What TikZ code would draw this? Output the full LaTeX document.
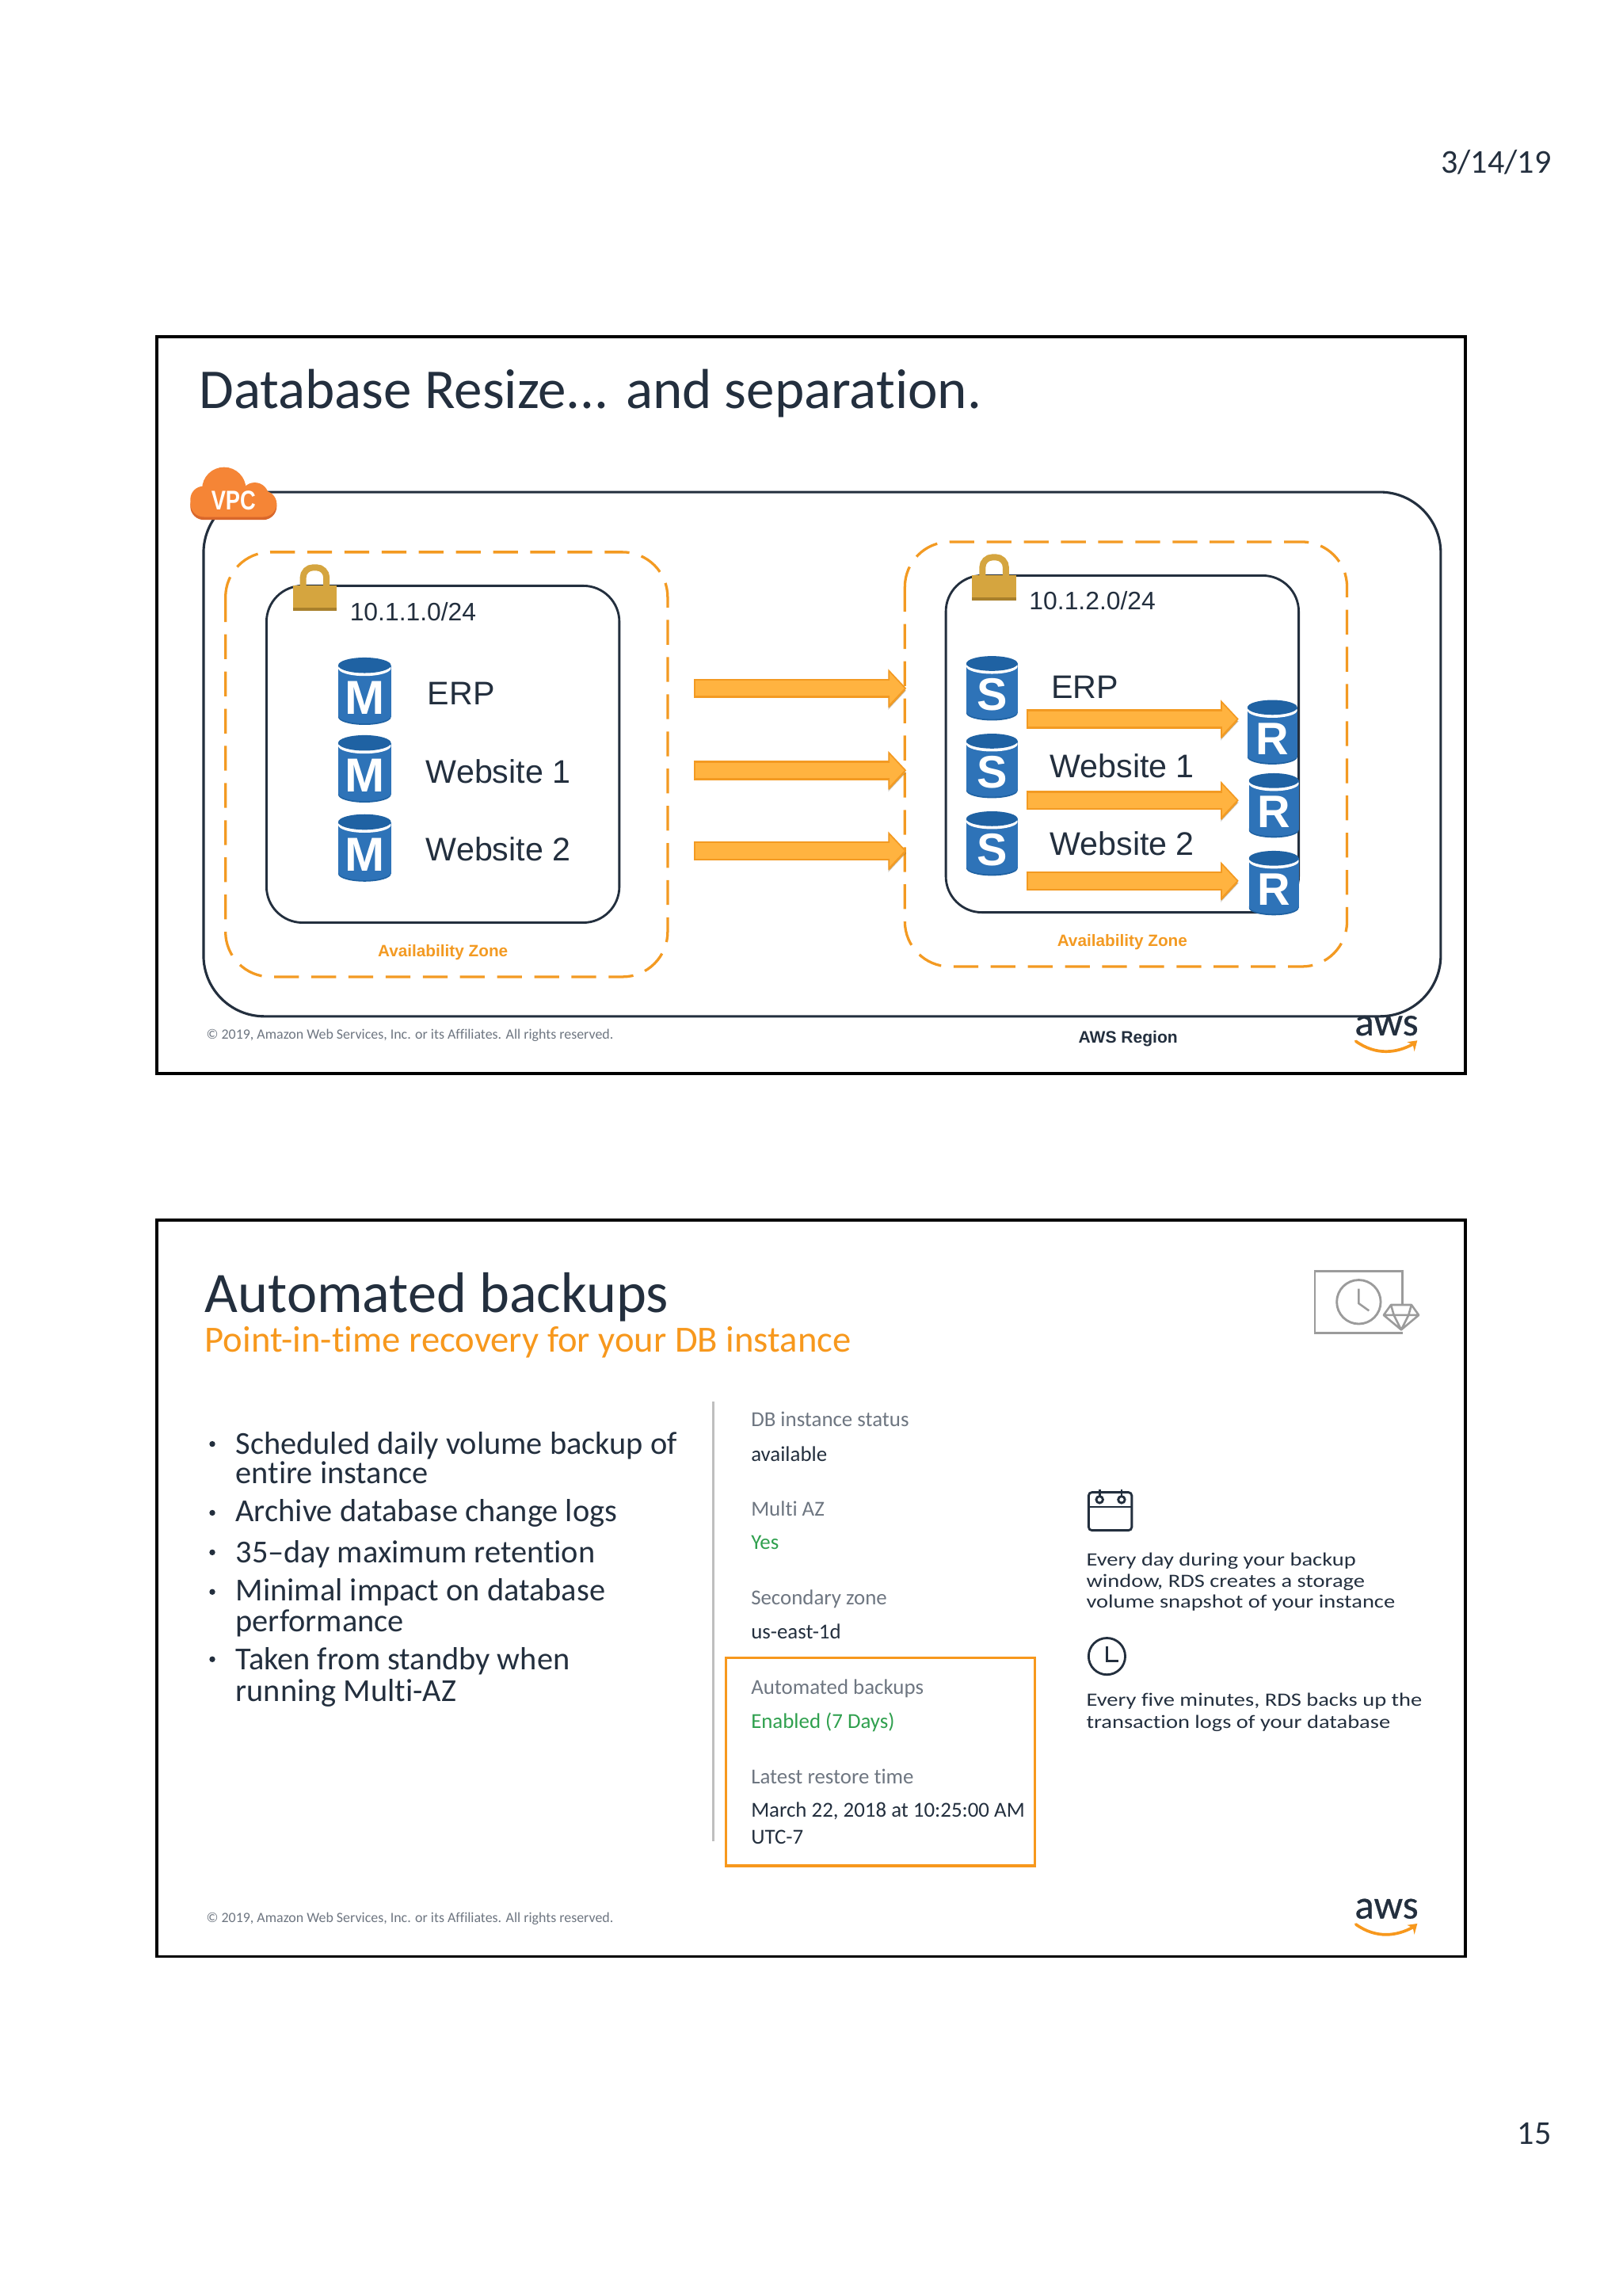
\documentclass[tikz,border=0pt]{standalone}
\usepackage{fontspec}
\setmainfont{Carlito}[Ligatures=NoCommon]
\newfontfamily\arialf{Liberation Sans}
\newfontfamily\widef{Carlito}[FakeStretch=1.2,Ligatures=NoCommon]
\newfontfamily\narrowf{Liberation Sans}[FakeStretch=0.8]
\newfontfamily\awsf{Carlito}[FakeBold=0.5]
\usetikzlibrary{arrows.meta}
\definecolor{inkdark}{HTML}{232F3E}
\definecolor{grayt}{HTML}{6E7681}
\definecolor{greent}{HTML}{2FA04E}
\definecolor{awsorange}{HTML}{F7981D}
\definecolor{dborange}{HTML}{F39A22}
\definecolor{arrowlight}{HTML}{FFB340}
\definecolor{dbblue}{HTML}{2E73B8}
\definecolor{dbdark}{HTML}{1F62A3}
\definecolor{gold}{HTML}{D5A53F}
\definecolor{golddark}{HTML}{A8802C}
\definecolor{cloudo}{HTML}{F58536}
\definecolor{cloudd}{HTML}{D9672B}
\definecolor{icongray}{HTML}{9B9B9B}
\newcommand\fs[1]{\fontsize{#1}{#1}\selectfont}
\tikzset{
  txt/.style={anchor=base west,inner sep=0pt,outer sep=0pt,text=inkdark},
  txtc/.style={anchor=base,inner sep=0pt,outer sep=0pt,text=inkdark},
  slidebox/.style={draw=black,line width=1.35pt,fill=white},
  vpcbox/.style={draw=inkdark,line width=1.1pt,rounded corners=27pt},
  azbox/.style={draw=dborange,line width=1.15pt,dash pattern=on 11pt off 5.5pt,rounded corners=20pt},
  subnetbox/.style={draw=inkdark,line width=1pt,rounded corners=16pt},
  bigarrow/.style={line width=8.6pt,draw=dborange,-{Triangle[length=8pt,width=17pt,fill=arrowlight,line width=.6pt]},
    preaction={draw=black,draw opacity=.14,transform canvas={yshift=-1pt}},
    postaction={draw=arrowlight,line width=6.8pt,-,shorten >=6.5pt,shorten <=.7pt}},
  bodytxt/.style={txt,font=\fs{14.2}},
  infogray/.style={txt,text=grayt,font=\fs{9.45}},
  infodark/.style={txt,font=\fs{9.45}},
  infogreen/.style={txt,text=greent,font=\fs{9.45}},
  sidetxt/.style={txt,font=\widef\fs{8.35}},
  diag/.style={txt,font=\arialf\fs{14.5}},
  subnetlab/.style={txt,font=\arialf\fs{11.2}},
  azlab/.style={txtc,text=dborange,font=\arialf\bfseries\fs{7.3}},
  copyr/.style={txt,text=grayt,font=\fs{6.3}},
  icon/.style={draw=inkdark,line width=1pt},
  iconb/.style={draw=icongray,line width=1pt},
}
\newcommand\dbcyl[6]{% name, cx, top, w, h, letter
  \pgfmathsetmacro\ee{#5*0.115}
  \pgfmathsetmacro\ff{#5*0.46}
  \fill[dbblue] (#2-#4/2,#3+\ee) rectangle (#2+#4/2,#3+#5-\ee);
  \fill[dbdark] (#2,#3+#5-\ee) ellipse [x radius=#4/2,y radius=\ee];
  \fill[dbblue] (#2,#3+#5-\ee-1) ellipse [x radius=#4/2,y radius=\ee];
  \fill[white] (#2,#3+\ee+2) ellipse [x radius=#4/2,y radius=\ee];
  \fill[dbdark] (#2,#3+\ee) ellipse [x radius=#4/2,y radius=\ee];
  \node[text=white,inner sep=0pt,font=\arialf\bfseries\fs{\ff}] (#1) at (#2,#3+#5*0.6) {#6};
}
\newcommand\padlock[2]{% x left, y top
  \draw[gold,line width=2.8pt,rounded corners=4.5pt] (#1+7,#2+17) -- (#1+7,#2+2.5) -- (#1+23,#2+2.5) -- (#1+23,#2+17);
  \fill[gold] (#1,#2+15) rectangle (#1+30,#2+31);
  \fill[golddark] (#1,#2+30) rectangle (#1+30,#2+32);
}
\newcommand\awslogo[3]{% name, x left, y top
  \node[txtc,font=\awsf\fs{18}] (#1) at (#2+21,#3+15) {aws};
  \draw[awsorange,line width=1.3pt,line cap=round] (#2,#3+19) .. controls (#2+14,#3+29) and (#2+28,#3+27) .. (#2+39,#3+21);
  \fill[awsorange] (#2+35,#3+19.5) -- (#2+42,#3+18.5) -- (#2+40,#3+26) -- (#2+39,#3+21.5) -- cycle;
}
\begin{document}
\begin{tikzpicture}[x=0.65pt,y=-0.65pt]
\useasboundingbox (0,0) rectangle (1108,1567.8);
\fill[white] (0,0) rectangle (1108,1567.8);
\node[txt,anchor=base east,font=\fs{14.8}] (date) at (1059.5,118) {3/14/19};
\node[txt,anchor=base east,font=\fs{14.8}] (page) at (1059.5,1464) {15};

% ---------- slide 1
\draw[slidebox] (107,230) rectangle (1001,733);
\node[txt,font=\fs{25}] (title1) at (136,279) {Database Resize... and separation.};
\node[copyr] (copy1) at (141,709.5) {© 2019, Amazon Web Services, Inc. or its Affiliates. All rights reserved.};
\awslogo{aws1}{926}{692}
\draw[vpcbox] (139,336) rectangle (984,694);
\node[txtc,font=\arialf\bfseries\fs{7.4}] (region) at (770.5,712) {AWS Region};
% cloud
\fill[cloudd,rounded corners=6pt] (130,336) rectangle (189,355);
\fill[cloudo,rounded corners=6pt] (130,335) rectangle (189,353);
\fill[cloudo] (153,334) circle [radius=15];
\fill[cloudo] (174,339) circle [radius=9.5];
\fill[cloudo] (139,341) circle [radius=9];
\node[text=white,inner sep=0pt,font=\narrowf\bfseries\fs{12}] (vpc) at (159.5,342) {VPC};

\draw[azbox] (154,377) rectangle (456,667);
\draw[subnetbox] (182,400) rectangle (423,630);
\padlock{200}{385}
\node[subnetlab] (sub1) at (239,424) {10.1.1.0/24};
\dbcyl{m1}{249}{449}{36}{46}{M}
\dbcyl{m2}{249}{502}{36}{46}{M}
\dbcyl{m3}{249}{556}{36}{46}{M}
\node[diag] (l1) at (292,481) {ERP};
\node[diag] (l2) at (291,535) {Website 1};
\node[diag] (l3) at (291,588) {Website 2};
\node[azlab] (az1) at (302.5,653) {Availability Zone};

\draw[azbox] (618,370) rectangle (920,660);
\draw[subnetbox] (646,393) rectangle (887,623);
\padlock{664}{378}
\node[subnetlab] (sub2) at (703,416.5) {10.1.2.0/24};
\dbcyl{s1}{677.5}{448}{35}{44}{S}
\dbcyl{s2}{677.5}{501}{35}{44}{S}
\dbcyl{s3}{677.5}{554}{35}{44}{S}
\dbcyl{r1}{869}{478}{34}{44}{R}
\dbcyl{r2}{870}{528}{34}{44}{R}
\dbcyl{r3}{870}{581}{34}{44}{R}
\node[diag] (l4) at (718,477) {ERP};
\node[diag] (l5) at (717,531) {Website 1};
\node[diag] (l6) at (717,584) {Website 2};
\node[azlab] (az2) at (766.5,646) {Availability Zone};

\coordinate (a1s) at (474,470); \coordinate (a1e) at (619,470);
\coordinate (a2s) at (474,526); \coordinate (a2e) at (619,526);
\coordinate (a3s) at (474,581); \coordinate (a3e) at (619,581);
\coordinate (b1s) at (701,491); \coordinate (b1e) at (846,491);
\coordinate (b2s) at (701,546.5); \coordinate (b2e) at (846,546.5);
\coordinate (b3s) at (701,601.5); \coordinate (b3e) at (846,601.5);
\draw[bigarrow] (a1s) -- (a1e);
\draw[bigarrow] (a2s) -- (a2e);
\draw[bigarrow] (a3s) -- (a3e);
\draw[bigarrow] (b1s) -- (b1e);
\draw[bigarrow] (b2s) -- (b2e);
\draw[bigarrow] (b3s) -- (b3e);

% ---------- slide 2
\draw[slidebox] (107,833) rectangle (1001,1336);
\node[txt,font=\fs{25.4}] (title2) at (140,896) {Automated backups};
\node[txt,text=awsorange,font=\fs{16.4}] (subtitle) at (140,923) {Point-in-time recovery for your DB instance};
% icon top right
\draw[iconb] (958,891) -- (958,868) -- (898,868) -- (898,910) -- (958,910);
\draw[iconb] (928,889) circle [radius=15];
\draw[iconb,line width=.9pt] (928,880) -- (928,890) -- (935,895);
\draw[iconb,line width=.9pt,line join=round] (945,898) -- (950,891) -- (964,891) -- (969,898) -- (957,908) -- cycle (945,898) -- (969,898) (950,891) -- (952,898) -- (957,908) -- (962,898) -- (964,891);

\foreach \yy in {986,1033,1060,1087,1133}{\fill[inkdark] (145,\yy) circle [radius=2];}
\node[bodytxt] (b1a) at (161,993) {Scheduled daily volume backup of};
\node[bodytxt] (b1b) at (161,1013) {entire instance};
\node[bodytxt] (b2)  at (161,1039) {Archive database change logs};
\node[bodytxt] (b3)  at (161,1067) {35–day maximum retention};
\node[bodytxt] (b4a) at (161,1093) {Minimal impact on database};
\node[bodytxt] (b4b) at (161,1114) {performance};
\node[bodytxt] (b5a) at (161,1140) {Taken from standby when};
\node[bodytxt] (b5b) at (161,1162) {running Multi-AZ};

\draw[draw=black!25,line width=1pt] (487,957) -- (487,1257);
\node[infogray] (i1) at (513,974) {DB instance status};
\node[infodark] (i2) at (513,998) {available};
\node[infogray] (i3) at (513,1035) {Multi AZ};
\node[infogreen] (i4) at (513,1058) {Yes};
\node[infogray] (i5) at (513,1096) {Secondary zone};
\node[infodark] (i6) at (513,1119) {us-east-1d};
\draw[draw=awsorange,line width=1.1pt] (496,1132) rectangle (707,1274);
\node[infogray] (i7) at (513,1157) {Automated backups};
\node[infogreen] (i8) at (513,1180) {Enabled (7 Days)};
\node[infogray] (i9) at (513,1218) {Latest restore time};
\node[infodark] (i10) at (513,1241) {March 22, 2018 at 10:25:00 AM};
\node[infodark] (i11) at (513,1259) {UTC-7};

% calendar
\draw[icon,rounded corners=1.5pt] (743.5,1019) rectangle (773,1045);
\draw[icon] (743.5,1029) -- (773,1029);
\draw[icon,fill=white] (751,1024) circle [radius=2.3];
\draw[icon,fill=white] (766,1024) circle [radius=2.3];
\draw[icon] (751,1017) -- (751,1021.5) (766,1017) -- (766,1021.5);
\node[sidetxt] (s1a) at (742,1069) {Every day during your backup};
\node[sidetxt] (s1b) at (742,1084) {window, RDS creates a storage};
\node[sidetxt] (s1c) at (742,1098) {volume snapshot of your instance};
% clock
\draw[icon] (756,1131) circle [radius=12.5];
\draw[icon] (756,1124) -- (756,1134) -- (764,1134);
\node[sidetxt] (s2a) at (742,1165) {Every five minutes, RDS backs up the};
\node[sidetxt] (s2b) at (742,1180) {transaction logs of your database};

\node[copyr] (copy2) at (141,1312.5) {© 2019, Amazon Web Services, Inc. or its Affiliates. All rights reserved.};
\awslogo{aws2}{926}{1295}
\end{tikzpicture}
\end{document}
